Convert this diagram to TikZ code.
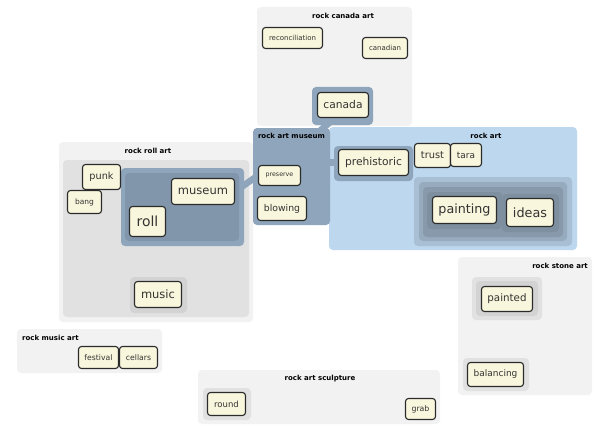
\documentclass[tikz,border=0pt]{standalone}
\usepackage{fontspec}
\setmainfont{DejaVu Sans}
\usepackage{xcolor}
\definecolor{cluster_light}{HTML}{F2F2F2}
\definecolor{cluster_mid}{HTML}{E1E1E1}
\definecolor{cluster_dark}{HTML}{D3D3D3}
\definecolor{art_blue}{HTML}{BDD7EE}
\definecolor{museum_blue}{HTML}{8EA5BC}
\definecolor{museum_blue_02}{HTML}{8196AA}
\definecolor{paint_blue_01}{HTML}{A9BFD4}
\definecolor{paint_blue_02}{HTML}{97ABBF}
\definecolor{paint_blue_03}{HTML}{8799AB}
\definecolor{paint_blue_04}{HTML}{7E8FA0}
\definecolor{term_fill}{HTML}{F8F6DC}
\definecolor{term_line}{HTML}{2B2B2B}
\definecolor{term_text}{HTML}{333333}
\pgfdeclarelayer{clusters}
\pgfdeclarelayer{links}
\pgfsetlayers{clusters,links,main}
\tikzset{
    term/.style={draw=term_line, fill=term_fill, text=term_text, line width=1.1pt, rounded corners=3pt, inner sep=0pt},
    cluster/.style={rounded corners=4pt, inner sep=0pt},
    title/.style={font=\fontsize{7}{8}\selectfont\bfseries, inner sep=0pt, anchor=base},
    link/.style={draw=museum_blue, line width=6.5pt},
    fs/.style={font=\fontsize{#1}{#1}\selectfont},
}

\begin{document}
\begin{tikzpicture}[x=1pt, y=-1pt]
    \useasboundingbox (0,0) rectangle (600,428);

    % outer clusters
    \begin{pgfonlayer}{clusters}
    \fill [white] (0,0) rectangle (600,428);
    \node [cluster, fill=cluster_light, minimum width=155pt, minimum height=119pt] (rock_canada_art) at (334.5,66.5) {};
    \node [cluster, fill=cluster_light, minimum width=194pt, minimum height=180pt] (rock_roll_art) at (156,232) {};
    \node [cluster, fill=cluster_mid, minimum width=186pt, minimum height=157pt] (rock_roll_inner) at (156,238.5) {};
    \node [cluster, fill=art_blue, minimum width=248pt, minimum height=123pt] (rock_art) at (453,188.5) {};
    \node [cluster, fill=cluster_light, minimum width=145pt, minimum height=44pt] (rock_music_art) at (89.5,351) {};
    \node [cluster, fill=cluster_light, minimum width=242pt, minimum height=54pt] (rock_art_sculpture) at (319,397) {};
    \node [cluster, fill=cluster_light, minimum width=134pt, minimum height=138pt] (rock_stone_art) at (525,326) {};
    \end{pgfonlayer}

    % groups
    \node [cluster, fill=museum_blue, minimum width=61pt, minimum height=38pt] (canada_group) at (342.5,106) {};
    \node [cluster, fill=museum_blue, minimum width=77pt, minimum height=97pt] (rock_art_museum) at (291.5,176.5) {};
    \node [cluster, fill=museum_blue, minimum width=123pt, minimum height=78pt] (roll_group) at (182.5,207) {};
    \node [cluster, fill=museum_blue_02, minimum width=114pt, minimum height=68pt] (roll_inner) at (182,207) {};
    \node [cluster, fill=cluster_dark, minimum width=57pt, minimum height=36pt] (music_group) at (158.5,295) {};
    \node [cluster, fill=museum_blue, minimum width=79pt, minimum height=35pt] (prehistoric_group) at (373.5,163.5) {};
    \node [cluster, fill=paint_blue_01, minimum width=158pt, minimum height=69pt] (painting_group) at (493,211.5) {};
    \node [cluster, fill=paint_blue_02, minimum width=148pt, minimum height=59pt] (painting_mid) at (493,211.5) {};
    \node [cluster, fill=paint_blue_03, minimum width=140pt, minimum height=50pt] (painting_inner) at (493,212) {};
    \node [cluster, fill=paint_blue_04, minimum width=75pt, minimum height=37pt] (painting_bg) at (464.5,210.5) {};
    \node [cluster, fill=paint_blue_04, minimum width=57pt, minimum height=38pt] (ideas_bg) at (530.5,213) {};
    \node [cluster, fill=cluster_mid, minimum width=48pt, minimum height=32pt] (round_bg) at (227,404) {};
    \node [cluster, fill=cluster_mid, minimum width=70pt, minimum height=43pt] (painted_group) at (507,298.5) {};
    \node [cluster, fill=cluster_dark, minimum width=62pt, minimum height=35pt] (painted_inner) at (507,298.5) {};
    \node [cluster, fill=cluster_mid, minimum width=66pt, minimum height=33pt] (balancing_bg) at (496,374.5) {};

    % titles
    \draw (343,18.5) node [title] {rock canada art};
    \draw (291.5,138) node [title] {rock art museum};
    \draw (148,153.5) node [title] {rock roll art};
    \draw (486,138.5) node [title] {rock art};
    \draw (588,268.5) node [title, anchor=base east] {rock stone art};
    \draw (22,340.5) node [title, anchor=base west] {rock music art};
    \draw (320,380.5) node [title] {rock art sculpture};

    % words
    \node [term, fs=7, minimum width=60pt, minimum height=21pt] (reconciliation) at (292.5,38) {reconciliation};
    \node [term, fs=7, minimum width=45pt, minimum height=21pt] (canadian) at (385,48) {canadian};
    \node [term, fs=10.7, minimum width=51pt, minimum height=25pt] (canada) at (343,105) {canada};
    \node [term, fs=6.3, minimum width=42pt, minimum height=20pt] (preserve) at (279.5,175.5) {preserve};
    \node [term, fs=9.3, minimum width=49pt, minimum height=24pt] (blowing) at (282,208.5) {blowing};
    \node [term, fs=9.7, minimum width=38pt, minimum height=25pt] (punk) at (101.5,177) {punk};
    \node [term, fs=7.5, minimum width=34pt, minimum height=23pt] (bang) at (84.5,202) {bang};
    \node [term, fs=11.5, minimum width=63pt, minimum height=26pt] (museum) at (203,191.5) {museum};
    \node [term, fs=13.9, minimum width=36pt, minimum height=30pt] (roll) at (147.5,221.5) {roll};
    \node [term, fs=11.5, minimum width=47pt, minimum height=26pt] (music) at (158,294.5) {music};
    \node [term, fs=10.7, minimum width=70pt, minimum height=26pt] (prehistoric) at (373.5,162.5) {prehistoric};
    \node [term, fs=9.8, minimum width=36pt, minimum height=24pt] (trust) at (432.5,155.5) {trust};
    \node [term, fs=8.9, minimum width=31pt, minimum height=23pt] (tara) at (466,155) {tara};
    \node [term, fs=12.7, minimum width=64pt, minimum height=27pt] (painting) at (464.5,210) {painting};
    \node [term, fs=12.8, minimum width=47pt, minimum height=28pt] (ideas) at (530,212.5) {ideas};
    \node [term, fs=7.7, minimum width=40pt, minimum height=22pt] (festival) at (98.5,357.5) {festival};
    \node [term, fs=7.7, minimum width=38pt, minimum height=22pt] (cellars) at (138.5,357.5) {cellars};
    \node [term, fs=8.5, minimum width=38pt, minimum height=23pt] (round) at (226.5,404) {round};
    \node [term, fs=7.8, minimum width=30pt, minimum height=21pt] (grab) at (420.5,409) {grab};
    \node [term, fs=10.3, minimum width=51pt, minimum height=25pt] (painted) at (507,299) {painted};
    \node [term, fs=9, minimum width=56pt, minimum height=24pt] (balancing) at (495.5,374.5) {balancing};

    % links between the groups
    \begin{pgfonlayer}{links}
    \draw [link] ([xshift=-8pt]canada.south) -- (preserve.north);
    \draw [link] (museum.east) -- (preserve.west);
    \draw [link] (prehistoric) -- (prehistoric -| rock_art_museum);
    \end{pgfonlayer}
\end{tikzpicture}
\end{document}
